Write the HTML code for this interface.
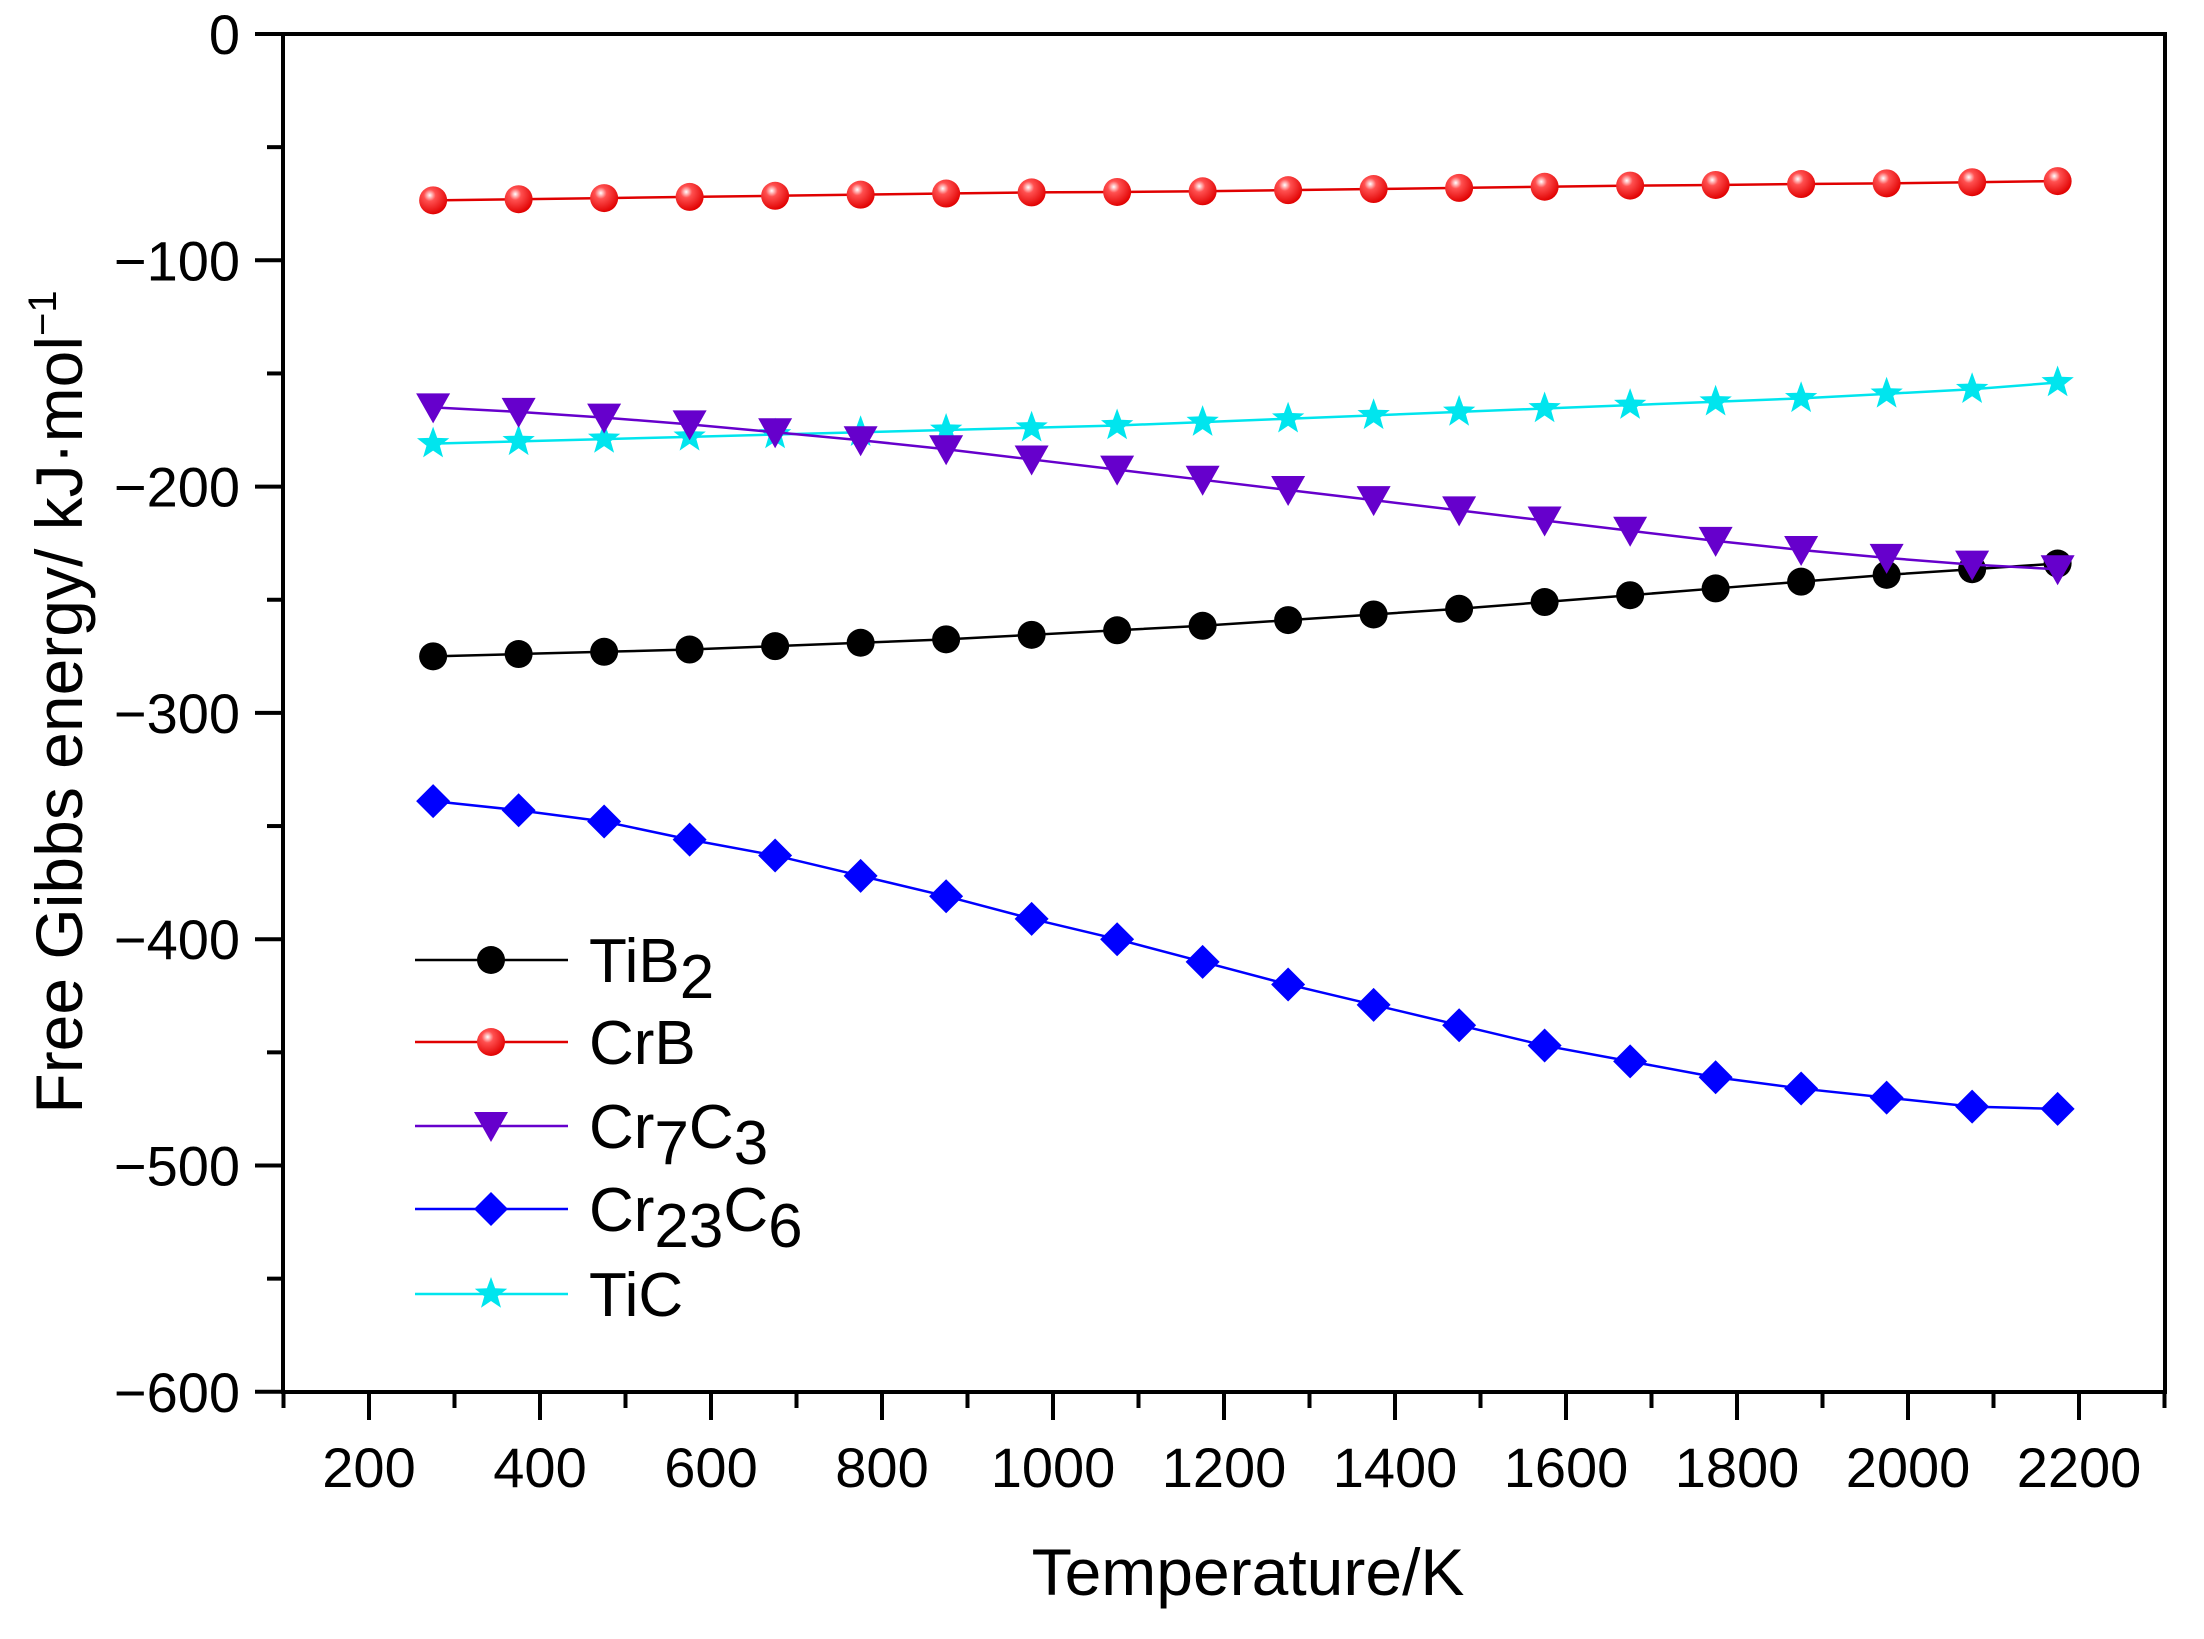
<!DOCTYPE html>
<html><head><meta charset="utf-8"><style>html,body{margin:0;padding:0;background:#fff}</style></head>
<body>
<svg id="s" width="2204" height="1634" xmlns="http://www.w3.org/2000/svg" font-family="Liberation Sans, Arial, sans-serif">
<defs>
<radialGradient id="rg" cx="0.38" cy="0.32" r="0.7"><stop offset="0" stop-color="#fff"/><stop offset="0.3" stop-color="#ff5050"/><stop offset="1" stop-color="#e00000"/></radialGradient>
</defs>
<g id="axes" stroke="#000" stroke-width="4" fill="none">
<rect x="283" y="34" width="1882" height="1358"/>
</g>
<g id="ticks" stroke="#000" stroke-width="4"></g>
<g id="labels" font-size="56" fill="#000"></g>
<g id="series"></g>
<text x="1248" y="1595" font-size="66" text-anchor="middle">Temperature/K</text>
<text transform="translate(82,702) rotate(-90)" font-size="66" text-anchor="middle">Free Gibbs energy/ kJ·mol<tspan dy="-26" font-size="40">−1</tspan></text>
<g id="legend" font-size="62"></g>
</svg>
<script>
const NS="http://www.w3.org/2000/svg";
function el(p,t,a,txt){const e=document.createElementNS(NS,t);for(const k in a)e.setAttribute(k,a[k]);if(txt!=null)e.textContent=txt;p.appendChild(e);return e;}
const X=T=>369+(T-200)*0.855, Y=v=>34-v*2.263;
const tk=document.getElementById('ticks'), lb=document.getElementById('labels');
for(let v=0;v>=-600;v-=50){const maj=v%100===0;el(tk,'line',{x1:283-(maj?28:16),x2:283,y1:Y(v),y2:Y(v)});
 if(maj)el(lb,'text',{x:240,y:Y(v)+20,'text-anchor':'end'},v===0?'0':'−'+(-v));}
for(let T=100;T<=2300;T+=100){const maj=T%200===0;el(tk,'line',{x1:X(T),x2:X(T),y1:1392,y2:1392+(maj?28:16)});
 if(maj)el(lb,'text',{x:X(T),y:1487,'text-anchor':'middle'},String(T));}
const Ts=[];for(let t=275;t<=2175;t+=100)Ts.push(t);
const D={
crb:[-73.5,-73,-72.5,-72,-71.5,-71,-70.5,-70,-69.8,-69.5,-69,-68.5,-68,-67.5,-67,-66.7,-66.3,-66,-65.5,-65],
tic:[-181,-180,-179,-178,-177,-176,-175,-174,-173,-171.5,-170,-168.5,-167,-165.5,-164,-162.5,-161,-159,-157,-154],
cr7:[-165,-167,-169.5,-172.5,-176,-179.5,-183.5,-188,-192.5,-197,-201.5,-206,-210.5,-215,-219.5,-224,-228,-231.5,-234.5,-236.5],
tib:[-275,-274,-273,-272,-270.5,-269,-267.5,-265.5,-263.5,-261.5,-259,-256.5,-254,-251,-248,-245,-242,-239,-236.5,-234],
c23:[-339,-343,-348,-356,-363,-372,-381,-391,-400,-410,-420,-429,-438,-447,-454,-461,-466,-470,-474,-475]};
const S=document.getElementById('series');
function marker(g,k,x,y){
 if(k==='tib')el(g,'circle',{cx:x,cy:y,r:14,fill:'#000'});
 if(k==='crb')el(g,'circle',{cx:x,cy:y,r:14,fill:'url(#rg)'});
 if(k==='cr7')el(g,'polygon',{points:`${x-17},${y-14} ${x+17},${y-14} ${x},${y+16}`,fill:'#6600cc'});
 if(k==='c23')el(g,'polygon',{points:`${x},${y-17} ${x+17},${y} ${x},${y+17} ${x-17},${y}`,fill:'#0000ff'});
 if(k==='tic'){let p=[];for(let i=0;i<10;i++){const r=i%2?7:17,a=-Math.PI/2+i*Math.PI/5;p.push((x+r*Math.cos(a)).toFixed(1)+','+(y+r*Math.sin(a)).toFixed(1));}el(g,'polygon',{points:p.join(' '),fill:'#00e5ee'});}
}
const col={tib:'#000',crb:'#e00000',cr7:'#6600cc',c23:'#0000ff',tic:'#00e5ee'};
for(const k of ['tib','crb','c23','tic','cr7']){
 el(S,'polyline',{points:Ts.map((t,i)=>X(t)+','+Y(D[k][i])).join(' '),fill:'none',stroke:col[k],'stroke-width':2.5});
 Ts.forEach((t,i)=>marker(S,k,X(t),Y(D[k][i])));
}
const L=document.getElementById('legend');
const leg=[['tib',960,'TiB','2',''],['crb',1042,'CrB','',''],['cr7',1126,'Cr','7','C','3'],['c23',1209,'Cr','23','C','6'],['tic',1294,'TiC','','']];
leg.forEach(r=>{const [k,y]=r;el(L,'line',{x1:415,x2:568,y1:y,y2:y,stroke:col[k],'stroke-width':2.5});marker(L,k,491,y);
 const t=el(L,'text',{x:589,y:y+22});el(t,'tspan',{},r[2]);
 if(r[3])el(t,'tspan',{dy:16},r[3]);
 if(r[4])el(t,'tspan',{dy:-16},r[4]);
 if(r[5])el(t,'tspan',{dy:16},r[5]);});
</script>
</body></html>
